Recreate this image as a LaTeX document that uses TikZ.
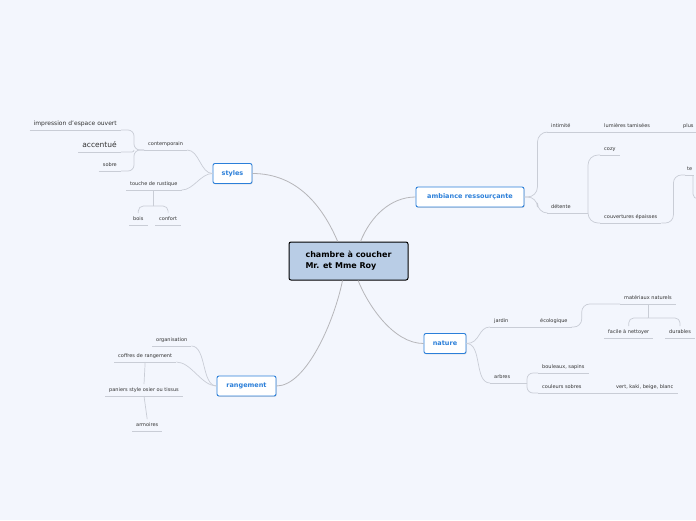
\documentclass[tikz,border=0pt]{standalone}
\usepackage{fontspec}
\setmainfont{DejaVu Sans}
\usetikzlibrary{calc,shadows}
\definecolor{bg}{HTML}{F3F6FD}
\definecolor{topicblue}{HTML}{2B7FD9}
\definecolor{cenfill}{HTML}{B9CDE6}
\definecolor{mainline}{HTML}{B6B6BA}
\definecolor{subline}{HTML}{C9CDD6}
\definecolor{leaftext}{HTML}{333333}
\begin{document}
\begin{tikzpicture}[x=1pt,y=-1pt,
 central/.style={draw=black, line width=1pt, fill=cenfill, rounded corners=2pt, minimum width=119pt, minimum height=38pt, align=left, font=\fontsize{8}{11}\selectfont\bfseries, inner sep=0pt},
 topic/.style={draw=topicblue, line width=0.9pt, fill=white, rounded corners=2pt, text=topicblue, font=\fontsize{6.5}{8}\selectfont\bfseries, minimum height=20pt, inner sep=0pt, drop shadow={shadow xshift=0.6pt, shadow yshift=-0.9pt, opacity=0.25}},
 leaf/.style={font=\fontsize{5}{6}\selectfont, text=leaftext, inner xsep=4pt, inner ysep=3pt, text height=4pt, text depth=1.5pt},
 uline/.style={draw=subline, line width=0.7pt},
 mainc/.style={draw=mainline, line width=0.8pt},
 subc/.style={draw=subline, line width=0.7pt}]
\fill[bg] (0,0) rectangle (696,520);
\useasboundingbox (0,0) rectangle (696,520);

% main nodes
\node[central] (cen) at (348.5,261) {chambre à coucher\\Mr. et Mme Roy};
\node[topic, minimum width=39pt] (styles) at (232.5,173.5) {styles};
\node[topic, minimum width=108pt] (amb) at (470,197) {ambiance ressourçante};
\node[topic, minimum width=42pt] (nat) at (445,343.5) {nature};
\node[topic, minimum width=59pt] (rang) at (246.5,386) {rangement};

% styles leaves
\node[leaf, anchor=south west] (cont) at (144,150) {contemporain};
\node[leaf, anchor=south east, font=\fontsize{6}{7}\selectfont, text height=4.6pt] (imp) at (121,130) {impression d'espace ouvert};
\node[leaf, anchor=south east, font=\fontsize{7.5}{9}\selectfont, text height=5.5pt] (acc) at (121,152) {accentué};
\node[leaf, anchor=south east] (sob) at (121,171) {sobre};
\node[leaf, anchor=south west] (rust) at (126,190) {touche de rustique};
\node[leaf, anchor=south west] (bois) at (129,225) {bois};
\node[leaf, anchor=south west] (conf) at (155,225) {confort};

% ambiance leaves
\node[leaf, anchor=south west] (int) at (547,132) {intimité};
\node[leaf, anchor=south west] (lum) at (600,132) {lumières tamisées};
\node[leaf, anchor=south west, inner xsep=2pt] (plus) at (681,132) {plus};
\node[leaf, anchor=south west, inner xsep=2pt] (te) at (685,175) {te};
\node[leaf, anchor=south west] (det) at (547,213) {détente};
\node[leaf, anchor=south west] (cozy) at (600,155) {cozy};
\node[leaf, anchor=south west] (couv) at (600,223) {couvertures épaisses};

% nature leaves
\node[leaf, anchor=south west] (jar) at (490,327) {jardin};
\node[leaf, anchor=south west] (eco) at (536,327) {écologique};
\node[leaf, anchor=south west] (mat) at (620,304) {matériaux naturels};
\node[leaf, anchor=south west] (fac) at (604,338) {facile à nettoyer};
\node[leaf, anchor=south west] (dur) at (665,338) {durables};
\node[leaf, anchor=south west] (arb) at (490,383) {arbres};
\node[leaf, anchor=south west] (boul) at (538,373) {bouleaux, sapins};
\node[leaf, anchor=south west] (coul) at (538,393) {couleurs sobres};
\node[leaf, anchor=south west] (vert) at (612,393) {vert, kaki, beige, blanc};

% rangement leaves
\node[leaf, anchor=south west] (org) at (152,346) {organisation};
\node[leaf, anchor=south west] (cof) at (114,362) {coffres de rangement};
\node[leaf, anchor=south west] (pan) at (105,396) {paniers style osier ou tissus};
\node[leaf, anchor=south west] (arm) at (132,431) {armoires};

% underlines
\foreach \n in {cont,imp,acc,sob,rust,bois,conf,int,lum,plus,det,cozy,couv,te,jar,eco,mat,fac,dur,arb,boul,coul,vert,org,cof,pan,arm}
  \draw[uline] (\n.south west) -- (\n.south east);

% main connectors
\draw[mainc] (styles.east) .. controls +(45,0) and +(-15,-35) .. ($(cen.north west)!0.41!(cen.north east)$);
\draw[mainc] (amb.west) .. controls +(-25,0) and +(10,-25) .. ($(cen.north west)!0.6!(cen.north east)$);
\draw[mainc] (nat.west) .. controls +(-30,0) and +(10,25) .. ($(cen.south west)!0.58!(cen.south east)$);
\draw[mainc] (rang.east) .. controls +(30,0) and +(-8,40) .. ($(cen.south west)!0.45!(cen.south east)$);

% styles connectors
\coordinate (cj) at (134,150);
\draw[subc, rounded corners=6pt] (imp.south east) -| (cj) -- (cont.south west);
\draw[subc, rounded corners=6pt] (sob.south east) -| (cj) -- (cont.south west);
\draw[subc, rounded corners=2pt] (acc.south east) -| (cj);
\draw[subc] (cont.south east) .. controls +(12,0) and +(-12,0) .. (styles.west);
\draw[subc] (rust.south east) .. controls +(12,0) and +(-12,0) .. (styles.west);
\coordinate (rj) at ($(rust.south)+(0,16)$);
\draw[subc] (rust.south) -- (rj);
\draw[subc, rounded corners=5pt] (rj) -| (bois.north);
\draw[subc, rounded corners=5pt] (rj) -| (conf.north);

% ambiance connectors
\draw[subc, rounded corners=10pt] (amb.east) -- ($(amb.east)+(13,0)$) |- (int.south west);
\draw[subc, rounded corners=10pt] (amb.east) -- ($(amb.east)+(13,0)$) |- (det.south west);
\draw[subc] (int.south east) -- (lum.south west);
\draw[subc] (lum.south east) -- (plus.south west);
\coordinate (dj) at (588,213);
\draw[subc] (det.south east) -- (dj);
\draw[subc, rounded corners=10pt] (dj) |- (cozy.south west);
\draw[subc, rounded corners=10pt] (dj) |- (couv.south west);
\draw[subc, rounded corners=8pt] (couv.south east) -- ++(12,0) |- (te.south west);
\coordinate (tec) at (704,199);
\draw[subc, rounded corners=5pt] ($(te.south west)+(8,0)$) |- (tec);

% nature connectors
\draw[subc] (nat.east) .. controls +(14,0) and +(-12,0) .. (jar.south west);
\draw[subc] (nat.east) .. controls +(16,0) and +(-16,0) .. (arb.south west);
\draw[subc] (jar.south east) -- (eco.south west);
\draw[subc, rounded corners=8pt] (eco.south east) -- ++(10,0) |- (mat.south west);
\coordinate (mj) at ($(mat.south)+(0,14)$);
\draw[subc] (mat.south) -- (mj);
\draw[subc, rounded corners=5pt] (mj) -| (fac.north);
\draw[subc, rounded corners=5pt] (mj) -| (dur.north);
\coordinate (aj) at (527,383);
\draw[subc] (arb.south east) -- (aj);
\draw[subc, rounded corners=6pt] (aj) |- (boul.south west);
\draw[subc, rounded corners=6pt] (aj) |- (coul.south west);
\draw[subc] (coul.south east) -- (vert.south west);

% rangement connectors
\draw[subc] (org.south east) .. controls +(15,0) and +(-15,0) .. (rang.west);
\draw[subc] (cof.south east) .. controls +(15,0) and +(-15,0) .. (rang.west);
\draw[subc] (cof.south) -- (pan.north);
\draw[subc] (pan.south) -- (arm.north);
\end{tikzpicture}
\end{document}
